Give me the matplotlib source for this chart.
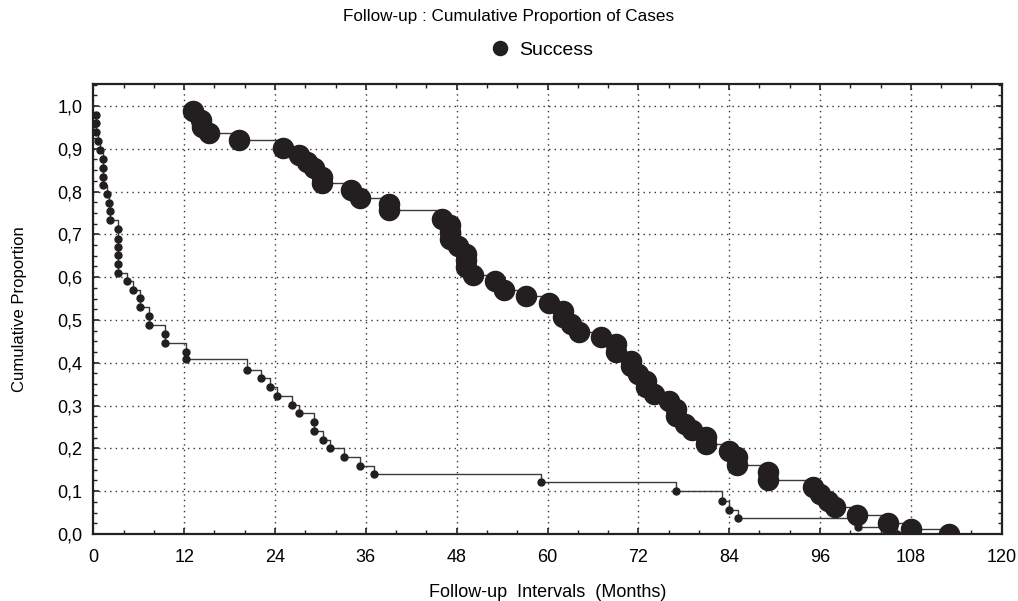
import matplotlib
matplotlib.use("Agg")
import matplotlib.pyplot as plt
from matplotlib.ticker import MultipleLocator

plt.rcParams['font.family'] = ['Liberation Sans', 'DejaVu Sans']

# Success group: time (months) and cumulative proportion at each event
t_succ = [13.2, 14.2, 14.3, 15.3, 19.3, 25.1, 27.2, 28.2, 29.2, 30.2, 30.2, 34.1, 35.2,
          39.1, 39.1, 46.1, 47.1, 47.1, 47.1, 48.2, 49.2, 49.2, 49.2, 50.2, 53.1, 54.2,
          57.1, 60.2, 62.1, 62.1, 63.1, 64.2, 67.1, 69.1, 69.1, 71.0, 71.0, 72.0, 73.0,
          73.0, 74.1, 76.0, 77.0, 77.0, 78.1, 79.1, 81.0, 81.0, 84.0, 85.0, 85.0, 89.1,
          89.1, 95.1, 96.0, 97.0, 98.0, 100.9, 105.0, 108.0, 113.0]
p_succ = [0.988, 0.967, 0.951, 0.936, 0.920, 0.902, 0.886, 0.870, 0.854, 0.835, 0.819,
          0.803, 0.786, 0.772, 0.756, 0.737, 0.721, 0.706, 0.690, 0.674, 0.655, 0.639,
          0.624, 0.604, 0.591, 0.571, 0.555, 0.539, 0.522, 0.508, 0.491, 0.471, 0.460,
          0.444, 0.425, 0.405, 0.393, 0.374, 0.358, 0.343, 0.327, 0.311, 0.292, 0.276,
          0.258, 0.243, 0.226, 0.211, 0.194, 0.179, 0.162, 0.144, 0.126, 0.110, 0.094,
          0.077, 0.062, 0.044, 0.026, 0.012, 0.0]

# other group (small markers, no legend entry)
t_oth = [0.4, 0.4, 0.4, 0.6, 0.9, 1.3, 1.3, 1.3, 1.3, 1.8, 2.1, 2.2, 2.2,
         3.25, 3.25, 3.25, 3.25, 3.25, 3.25, 4.4, 5.3, 6.2, 6.2, 7.3, 7.3, 9.4, 9.4,
         12.3, 12.3, 20.3, 22.2, 23.3, 24.2, 26.2, 27.2, 29.2, 29.2, 30.3, 31.3, 33.1,
         35.2, 37.1, 59.2, 77.0, 83.1, 84.0, 85.1, 101.0, 106.2]
p_oth = [0.979, 0.960, 0.940, 0.918, 0.897, 0.877, 0.856, 0.835, 0.815, 0.794, 0.774,
         0.754, 0.733, 0.712, 0.690, 0.671, 0.651, 0.630, 0.610, 0.591, 0.571, 0.551,
         0.530, 0.509, 0.489, 0.468, 0.447, 0.426, 0.408, 0.384, 0.364, 0.343, 0.322,
         0.302, 0.282, 0.261, 0.241, 0.220, 0.202, 0.179, 0.158, 0.139, 0.121, 0.100,
         0.077, 0.056, 0.037, 0.016, 0.0]

x_ticks = [0, 12, 24, 36, 48, 60, 72, 84, 96, 108, 120]
y_ticks = [0.0, 0.1, 0.2, 0.3, 0.4, 0.5, 0.6, 0.7, 0.8, 0.9, 1.0]
y_labels = ["0,0", "0,1", "0,2", "0,3", "0,4", "0,5", "0,6", "0,7", "0,8", "0,9", "1,0"]

mk = "#231f20"
ln = "#3a3a3a"

fig = plt.figure(figsize=(10.18, 6.01), dpi=100)
ax = fig.add_axes([0.0917, 0.1115, 0.8923, 0.7485])

ax.step(t_succ, p_succ, where="post", color=ln, lw=1.0, zorder=2)
ax.plot(t_succ, p_succ, ls="none", marker="o", ms=14.5, color=mk, label="Success", zorder=3)
ax.step(t_oth, p_oth, where="post", color=ln, lw=1.0, zorder=2)
ax.plot(t_oth, p_oth, ls="none", marker="o", ms=5, color=mk, zorder=3)

ax.set_xlim(0, 120)
ax.set_ylim(0, 1.051)
ax.set_xticks(x_ticks)
ax.set_yticks(y_ticks)
ax.set_yticklabels(y_labels)
ax.xaxis.set_minor_locator(MultipleLocator(4))
ax.yaxis.set_minor_locator(MultipleLocator(0.025))
ax.tick_params(which="both", direction="in", top=True, right=True, color="#222")
ax.tick_params(which="major", length=4, width=1.2, labelsize=13)
ax.tick_params(axis="x", which="major", pad=11)
ax.tick_params(axis="y", which="major", pad=8)
ax.tick_params(which="minor", length=3, width=1)
for s in ax.spines.values():
    s.set_linewidth(1.6)
    s.set_color("#222")

ax.grid(True, which="major", ls=(0, (1, 3)), lw=1.0, color="#333")

ax.set_xlabel("Follow-up  Intervals  (Months)", fontsize=13)
ax.xaxis.set_label_coords(0.5, -0.111)
ax.set_ylabel("Cumulative Proportion", fontsize=12)
ax.yaxis.set_label_coords(-0.073, 0.5)

fig.text(0.5, 1 - 17 / 601, "Follow-up : Cumulative Proportion of Cases",
         ha="center", va="center", fontsize=12.3)
ax.legend(loc="center", bbox_to_anchor=(0.4934, 1.0756), frameon=False, fontsize=14,
          handlelength=1.0, handletextpad=0.5, markerscale=0.7)

fig.savefig("out.png", dpi=100)
